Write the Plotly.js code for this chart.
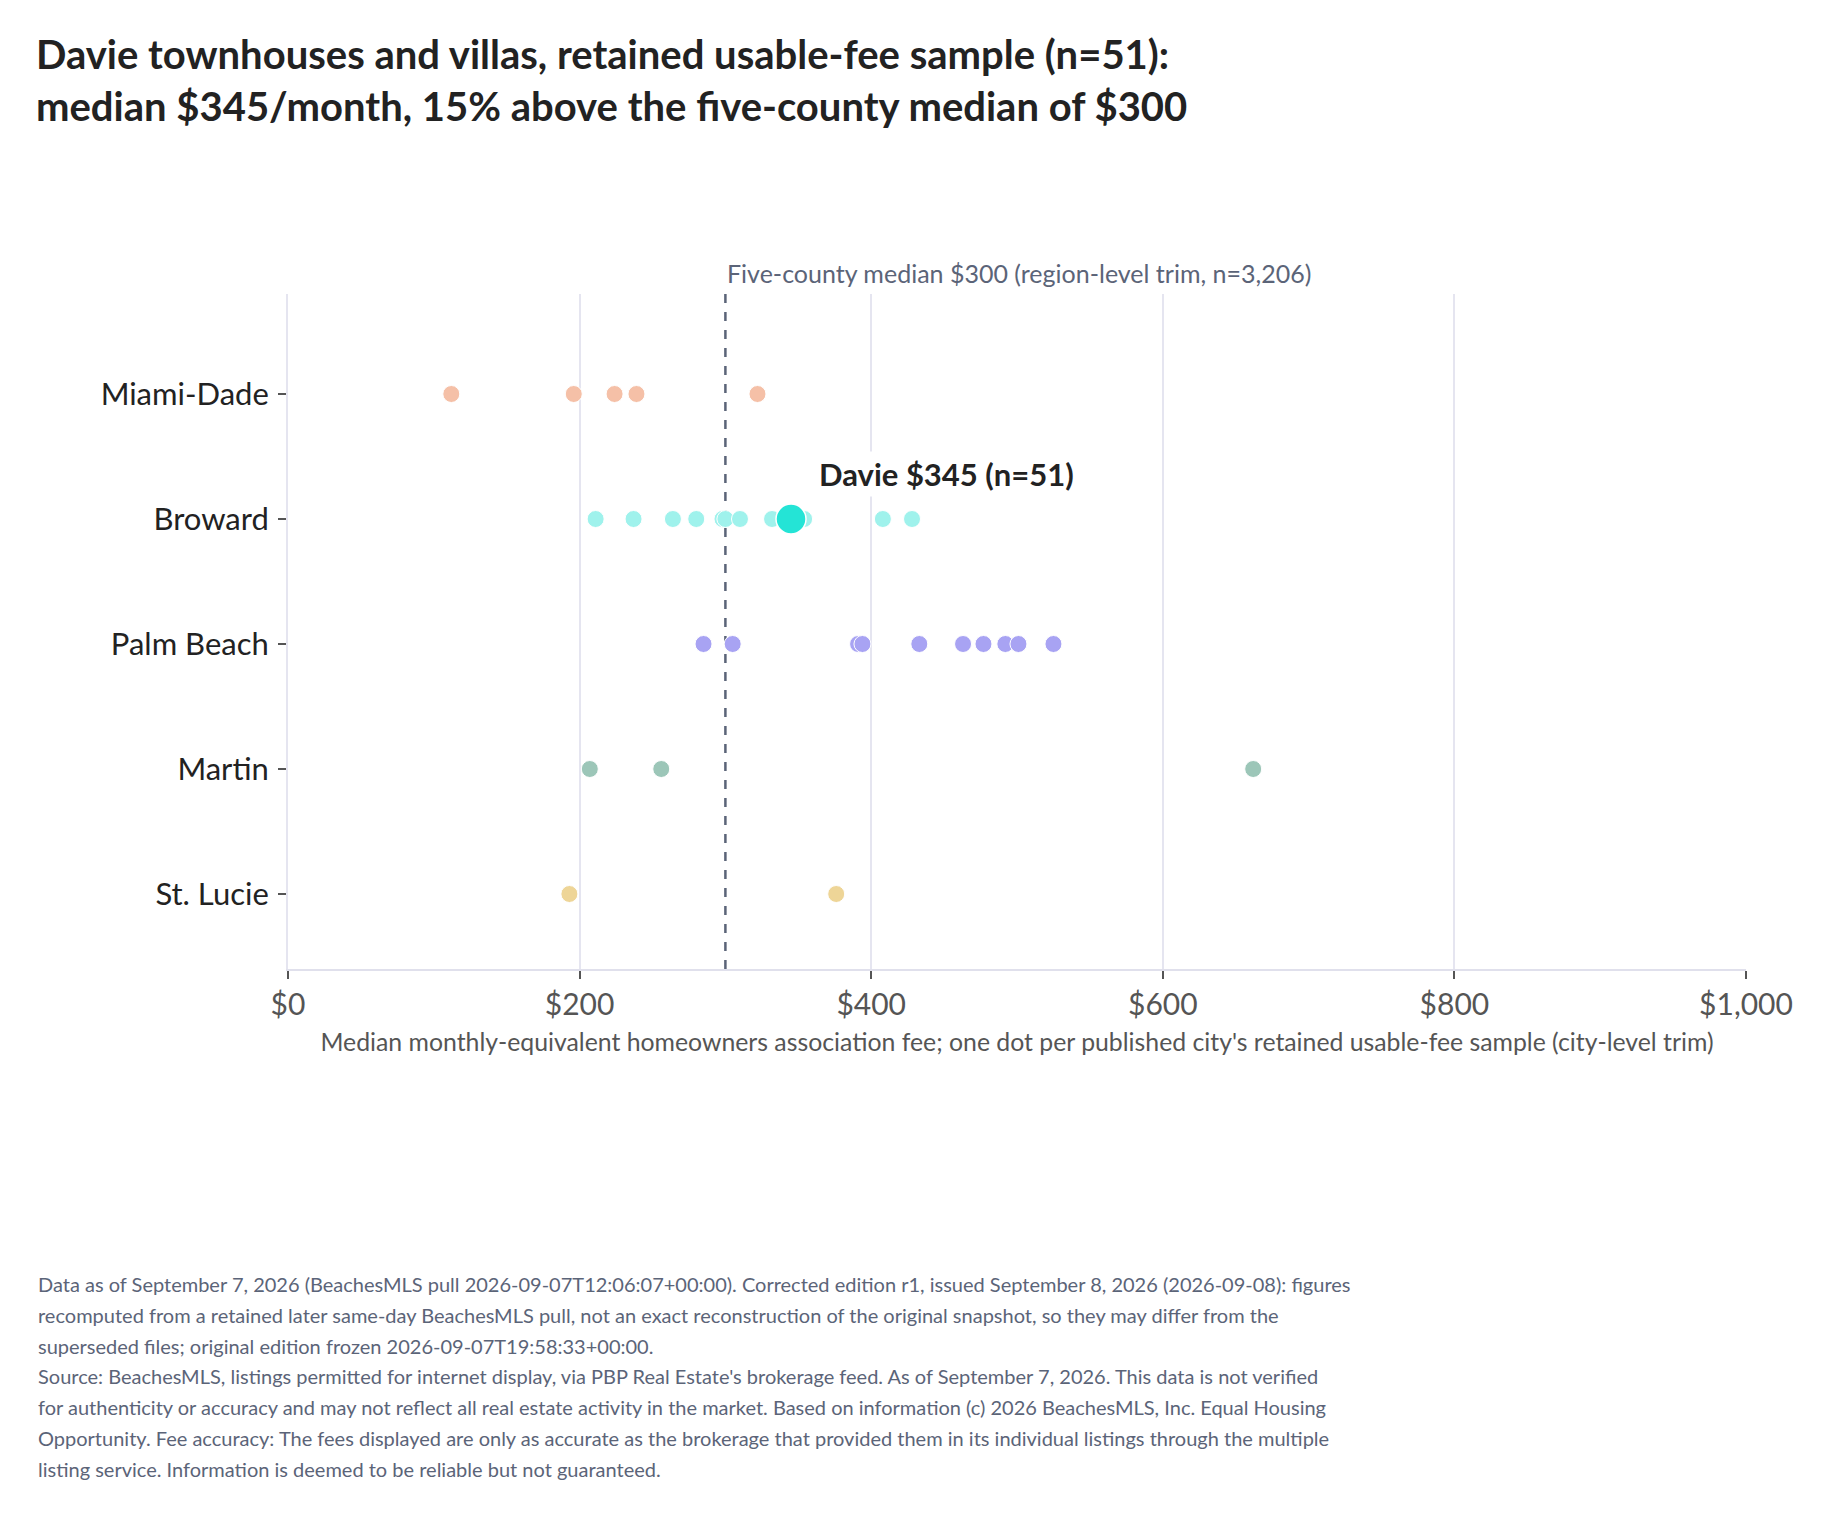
<!DOCTYPE html>
<html>
<head>
<meta charset="utf-8">
<script src="https://cdn.plot.ly/plotly-3.0.1.min.js"></script>
<style>
  html, body { margin: 0; padding: 0; background: #fff; }
  #chart { width: 1830px; height: 1517px; }
</style>
</head>
<body>
<div id="chart"></div>
<script>
// counties, top to bottom
const counties = ["Miami-Dade", "Broward", "Palm Beach", "Martin", "St. Lucie"];

// median monthly fee per published city
const miamiDade = [112, 196, 224, 239, 322];
const broward = [211, 237, 264, 280, 298, 300, 310, 332, 354, 408, 428];
const palmBeach = [285, 305, 391, 394, 433, 463, 477, 492, 501, 525];
const martin = [207, 256, 662];
const stLucie = [193, 376];

const countyColors = ["#f5c0a7", "#9ff2ec", "#a8a3f3", "#9cc6b8", "#eed597"];

const davieFee = 345;
const davieN = 51;
const regionMedian = 300;
const regionN = "3,206";

const xTicks = [0, 200, 400, 600, 800, 1000];
const xTickText = ["$0", "$200", "$400", "$600", "$800", "$1,000"];

const footerLines = [
  "Data as of September 7, 2026 (BeachesMLS pull 2026-09-07T12:06:07+00:00). Corrected edition r1, issued September 8, 2026 (2026-09-08): figures",
  "recomputed from a retained later same-day BeachesMLS pull, not an exact reconstruction of the original snapshot, so they may differ from the",
  "superseded files; original edition frozen 2026-09-07T19:58:33+00:00.",
  "Source: BeachesMLS, listings permitted for internet display, via PBP Real Estate's brokerage feed. As of September 7, 2026. This data is not verified",
  "for authenticity or accuracy and may not reflect all real estate activity in the market. Based on information (c) 2026 BeachesMLS, Inc. Equal Housing",
  "Opportunity. Fee accuracy: The fees displayed are only as accurate as the brokerage that provided them in its individual listings through the multiple",
  "listing service. Information is deemed to be reliable but not guaranteed.",
];

const W = 1830, H = 1517;
const margin = { l: 288, r: 84, t: 294, b: 548 };
const plotW = W - margin.l - margin.r;
const plotH = H - margin.t - margin.b;
const px = (x) => (x - margin.l) / plotW;        // page x -> paper x
const py = (y) => (H - margin.b - y) / plotH;     // page y -> paper y

const font = "Lato, 'Noto Sans', sans-serif";

const allFees = [miamiDade, broward, palmBeach, martin, stLucie];
const traces = allFees.map((fees, i) => ({
  type: "scatter",
  mode: "markers",
  x: fees,
  y: fees.map(() => counties[i]),
  name: counties[i],
  marker: { size: 17, color: countyColors[i], line: { color: "#fff", width: 1 } },
  hoverinfo: "x+y",
}));

traces.push({
  type: "scatter",
  mode: "markers",
  x: [davieFee],
  y: ["Broward"],
  name: "Davie",
  marker: { size: 30, color: "#24e4d6", line: { color: "#fff", width: 1.5 } },
});

const annotations = [
  {
    xref: "x", yref: "paper", x: regionMedian, y: 1,
    xanchor: "left", yanchor: "bottom", xshift: 0, yshift: 4,
    text: `Five-county median $${regionMedian} (region-level trim, n=${regionN})`,
    showarrow: false,
    font: { family: font, size: 25, color: "#5b6478" },
  },
  {
    xref: "x", yref: "y", x: davieFee, y: "Broward",
    xanchor: "left", yanchor: "middle", xshift: 24, yshift: 45,
    text: `<b>Davie $${davieFee} (n=${davieN})</b>`,
    showarrow: false, bgcolor: "#fff", borderpad: 3,
    font: { family: font, size: 31, color: "#222" },
  },
];

footerLines.forEach((line, i) => {
  annotations.push({
    xref: "paper", yref: "paper", x: px(36), y: py(1284 + i * 30.8),
    xanchor: "left", yanchor: "middle",
    text: line, showarrow: false, align: "left",
    font: { family: font, size: 20, color: "#5b6478" },
  });
});

const layout = {
  width: W,
  height: H,
  margin: margin,
  paper_bgcolor: "#fff",
  plot_bgcolor: "#fff",
  showlegend: false,
  font: { family: font, color: "#222" },
  title: {
    text: "<b>Davie townhouses and villas, retained usable-fee sample (n=51):<br>median $345/month, 15% above the five-county median of $300</b>",
    x: 36 / W, xref: "container", xanchor: "left",
    y: 1 - 69 / H, yref: "container", yanchor: "top",
    font: { family: font, size: 40, color: "#222" },
  },
  xaxis: {
    range: [0, 1000],
    tickvals: xTicks,
    ticktext: xTickText,
    tickfont: { family: font, size: 30, color: "#555" },
    ticks: "outside", ticklen: 8, tickwidth: 2, tickcolor: "#555",
    showgrid: true, gridcolor: "#e5e5f0", gridwidth: 2,
    showline: true, linecolor: "#e0e0ec", linewidth: 2,
    zeroline: false,
    title: {
      text: "Median monthly-equivalent homeowners association fee; one dot per published city's retained usable-fee sample (city-level trim)",
      font: { family: font, size: 24.8, color: "#555" },
      standoff: 14,
    },
  },
  yaxis: {
    type: "category",
    categoryorder: "array",
    categoryarray: counties,
    range: [4.6, -0.8],
    tickfont: { family: font, size: 31, color: "#222" },
    ticks: "outside", ticklen: 8, tickwidth: 2, tickcolor: "#555",
    ticklabelstandoff: 3,
    showgrid: false,
    showline: true, linecolor: "#e5e5f0", linewidth: 2,
    zeroline: false,
  },
  shapes: [
    {
      type: "line", xref: "x", yref: "paper",
      x0: regionMedian, x1: regionMedian, y0: 0, y1: 1,
      line: { color: "#5b6478", width: 2.5, dash: "dash" },
      layer: "below",
    },
  ],
  annotations: annotations,
};

Plotly.newPlot("chart", traces, layout, { displayModeBar: false, staticPlot: true });
</script>
</body>
</html>
